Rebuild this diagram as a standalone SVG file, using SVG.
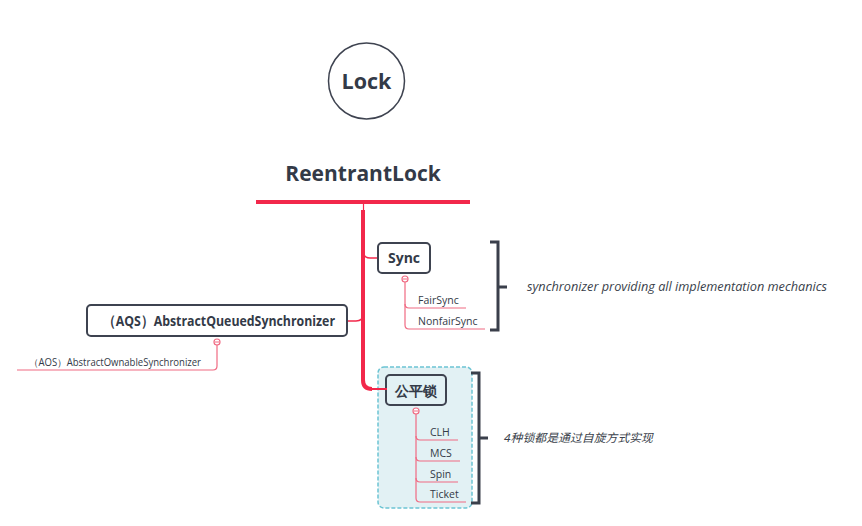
<svg xmlns="http://www.w3.org/2000/svg" width="862" height="526" viewBox="0 0 862 526">
<style>
.t{font-family:"Open Sans","Noto Sans","Liberation Sans",sans-serif;fill:#333a47}
.b{font-weight:bold}
.box{fill:#ffffff;stroke:#3e4350;stroke-width:2}
.thin{fill:none;stroke:#f06a82;stroke-width:1.2}
.red{fill:none;stroke:#f2284b}
.brk{fill:none;stroke:#3a3f4b;stroke-width:3}
.col{fill:#ffffff;stroke:#f06a82;stroke-width:1.2}
.note{font-family:"Open Sans","Noto Sans","Noto Sans CJK SC",sans-serif;font-style:italic;fill:#3a3f4b}
</style>
<rect width="862" height="526" fill="#ffffff"/>
<g id="fairlock">
<rect x="378" y="367" width="94" height="141" rx="6" fill="#e2f1f4" stroke="#6cc4d3" stroke-width="1.5" stroke-dasharray="4,2"/>
<rect x="386" y="375" width="60" height="30" rx="4" fill="#e2f1f4" stroke="#3e4350" stroke-width="2"/>
<text class="t b" x="416" y="396" font-size="14" text-anchor="middle" font-family="'Noto Sans CJK SC',sans-serif">公平锁</text>
<circle class="col" cx="416" cy="411" r="3"/>
<path d="M414,411 H418" stroke="#f06a82" stroke-width="1"/>
</g>
<g id="connectors">
<path class="red" stroke-width="4" d="M256,202 H470"/>
<path class="red" stroke-width="1.2" d="M363.5,204 V210"/>
<path class="red" stroke-width="4" d="M363,210 V380 Q363,389 372,389"/>
<path class="red" stroke-width="2" d="M371,389 H387"/>
<path class="red" stroke-width="1.5" d="M363,250 Q363,258 370,258 H378"/>
<path class="red" stroke-width="1.5" d="M363,314 Q363,321 356,321 H347"/>
<path class="thin" d="M405,282 V304 Q405,308 409,308 H466"/>
<path class="thin" d="M405,304 V325 Q405,329 409,329 H485"/>
<path class="thin" d="M217,345 V366 Q217,370 213,370 H17"/>
<path class="thin" d="M416,414 V436 Q416,440 420,440 H458"/>
<path class="thin" d="M416,436 V457 Q416,461 420,461 H460"/>
<path class="thin" d="M416,457 V478 Q416,482 420,482 H458"/>
<path class="thin" d="M416,478 V498 Q416,502 420,502 H466"/>
</g>
<g id="lock">
<circle cx="366.5" cy="81" r="38" fill="#ffffff" stroke="#3e4350" stroke-width="1.5"/>
<text class="t b" x="366.5" y="89" font-size="21.5" text-anchor="middle">Lock</text>
</g>
<g id="reentrantlock">
<text class="t b" x="363" y="181" font-size="21" text-anchor="middle">ReentrantLock</text>
</g>
<g id="sync">
<rect class="box" x="378" y="243" width="52" height="30" rx="4"/>
<text class="t b" x="404" y="263" font-size="14" text-anchor="middle">Sync</text>
<circle class="col" cx="405" cy="279" r="3"/>
<path d="M403,279 H407" stroke="#f06a82" stroke-width="1"/>
</g>
<g id="fairsync"><text class="t" x="418" y="304" font-size="10.5">FairSync</text></g>
<g id="nonfairsync"><text class="t" x="418" y="325" font-size="10.5">NonfairSync</text></g>
<g id="sync-note">
<path class="brk" d="M490,242 H498 V330 H490 M498,287 H507"/>
<text class="note" x="527" y="291" font-size="12.5" textLength="300" lengthAdjust="spacingAndGlyphs">synchronizer providing all implementation mechanics</text>
</g>
<g id="aqs">
<rect class="box" x="87" y="305" width="260" height="31" rx="4"/>
<text class="t b" x="103" y="326" font-size="14.5" textLength="232" lengthAdjust="spacingAndGlyphs">（AQS）AbstractQueuedSynchronizer</text>
<circle class="col" cx="217" cy="342" r="3"/>
<path d="M215,342 H219" stroke="#f06a82" stroke-width="1"/>
</g>
<g id="aos"><text class="t" x="29" y="366" font-size="10" textLength="172" lengthAdjust="spacingAndGlyphs">（AOS）AbstractOwnableSynchronizer</text></g>
<g id="clh"><text class="t" x="430" y="436" font-size="10.5">CLH</text></g>
<g id="mcs"><text class="t" x="430" y="457" font-size="10.5">MCS</text></g>
<g id="spin"><text class="t" x="430" y="478" font-size="10.5">Spin</text></g>
<g id="ticket"><text class="t" x="430" y="498" font-size="10.5">Ticket</text></g>
<g id="fairlock-note">
<path class="brk" d="M471,373 H479 V503 H471 M479,438 H488"/>
<text class="note" x="504" y="442" font-size="11.5" font-family="'Noto Sans CJK SC',sans-serif" textLength="149" lengthAdjust="spacingAndGlyphs">4种锁都是通过自旋方式实现</text>
</g>
</svg>
